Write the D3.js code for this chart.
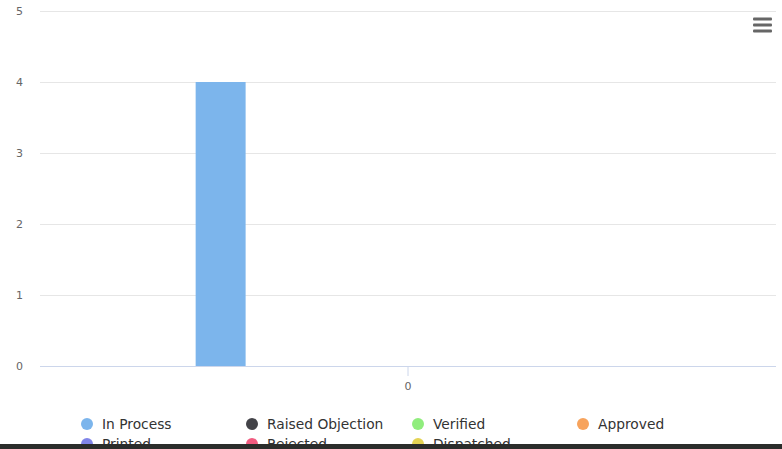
<!DOCTYPE html>
<html><head><meta charset="utf-8">
<script src="https://cdn.jsdelivr.net/npm/d3@7"></script>
<style>html,body{margin:0;padding:0;background:#fff;overflow:hidden}svg{display:block}</style>
</head><body>
<script>
const categories = ["0"];
const seriesNames = ["In Process","Raised Objection","Verified","Approved","Printed","Rejected","Dispatched"];
const seriesValues = [4,0,0,0,0,0,0];
const seriesColors = ["#7cb5ec","#434348","#90ed7d","#f7a35c","#8085e9","#f15c80","#e4d354"];
const yTicks = [0,1,2,3,4,5];

const W=782,H=449;
const FONT="'DejaVu Sans',sans-serif";
const m={left:40,right:6,top:11,bottom:83};
const svg=d3.select("body").append("svg").attr("width",W).attr("height",H);
const iw=W-m.left-m.right, ih=H-m.top-m.bottom;
const g=svg.append("g").attr("transform",`translate(${m.left},${m.top})`);

const y=d3.scaleLinear().domain([0,5]).range([ih,0]);
const x0=d3.scaleBand().domain(categories).range([0,iw]).paddingInner(0).paddingOuter(0);
const x1=d3.scaleBand().domain(seriesNames).range([x0.bandwidth()*0.203,x0.bandwidth()*0.797]).paddingInner(0.2).paddingOuter(0.1);

// grid
g.selectAll("line.grid").data(yTicks).join("line").attr("class","grid")
 .attr("x1",0).attr("x2",iw).attr("y1",d=>Math.round(y(d))+0.5).attr("y2",d=>Math.round(y(d))+0.5)
 .attr("stroke",d=>d===0?"#ccd6eb":"#e6e6e6").attr("stroke-width",1);

// y labels
const yAxis=d3.axisLeft(y).tickValues(yTicks).tickSize(0).tickPadding(17).tickFormat(d3.format("d"));
const ya=g.append("g").call(yAxis);
ya.select(".domain").remove();
ya.selectAll("text").attr("fill","#666").style("font-family",FONT).style("font-size","11px").attr("dy","0.32em");

// x axis
const xa=g.append("g").attr("transform",`translate(0,${ih})`).call(d3.axisBottom(x0).tickSize(10).tickPadding(6));
xa.select(".domain").remove();
xa.selectAll(".tick line").attr("stroke","#ccd6eb");
xa.selectAll("text").attr("fill","#666").style("font-family",FONT).style("font-size","11px");

// bars
const data=seriesNames.map((s,i)=>({cat:categories[0],name:s,value:seriesValues[i],color:seriesColors[i]}));
g.selectAll("rect.bar").data(data).join("rect").attr("class","bar")
 .attr("x",d=>x0(d.cat)+x1(d.name)).attr("width",x1.bandwidth())
 .attr("y",d=>y(d.value)).attr("height",d=>ih-y(d.value)).attr("fill",d=>d.color);

// legend
const legX=[87,252,418,583], legY=[424,444];
const lg=svg.append("g");
data.forEach((d,i)=>{
  const cx=legX[i%4], cy=legY[Math.floor(i/4)];
  const it=lg.append("g");
  it.append("circle").attr("cx",cx).attr("cy",cy).attr("r",6).attr("fill",d.color);
  it.append("text").attr("x",cx+15).attr("y",cy).attr("dy","0.35em").text(d.name)
   .attr("fill","#333").style("font-family",FONT).style("font-size","13.8px");
});

// menu icon
const mi=svg.append("g");
[19,25,31].forEach(yy=>mi.append("rect").attr("x",753).attr("y",yy-1.5).attr("width",19).attr("height",3).attr("rx",1).attr("fill","#666"));

// bottom dark strip
svg.append("rect").attr("x",0).attr("y",444).attr("width",W).attr("height",5).attr("fill","#2b2d2b");
</script>
</body></html>
